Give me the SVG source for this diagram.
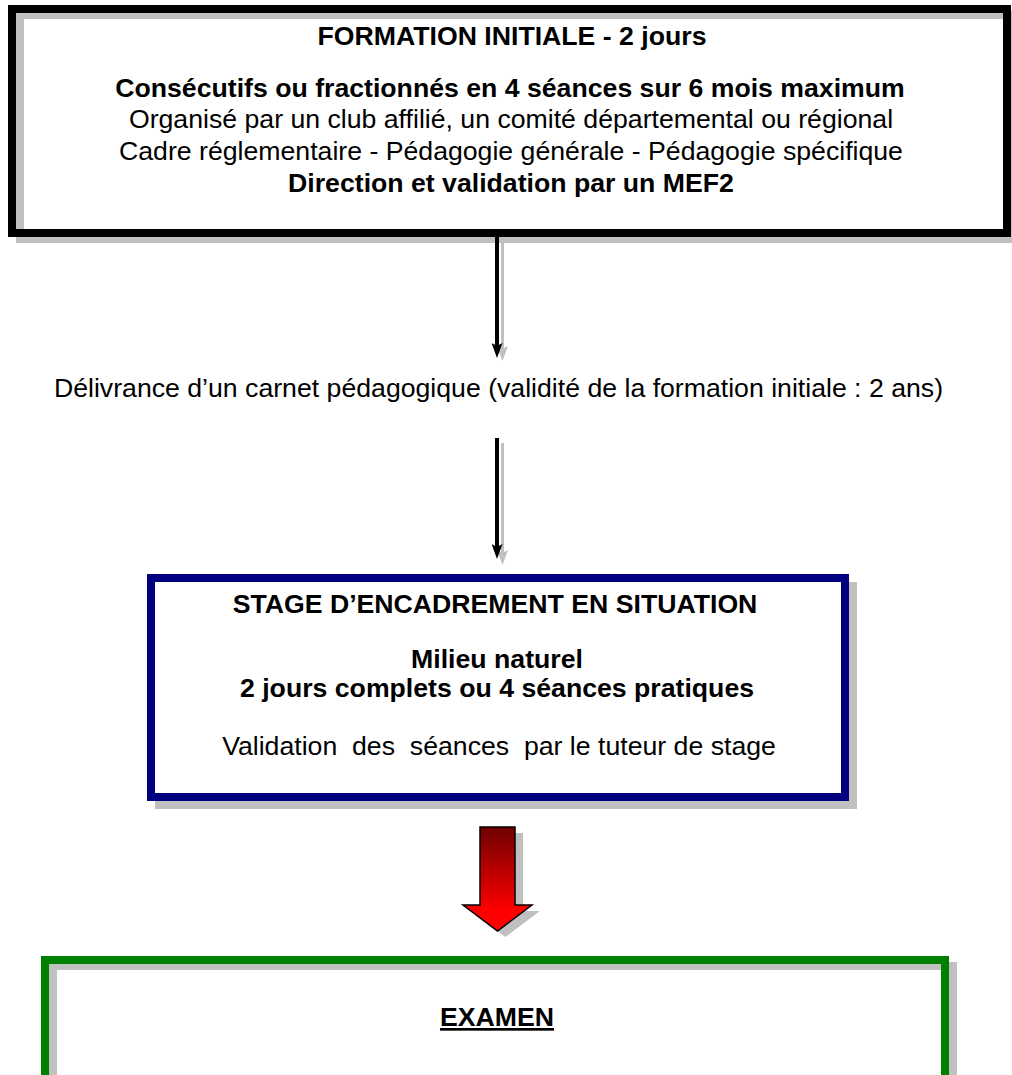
<svg xmlns="http://www.w3.org/2000/svg" width="1012" height="1075" viewBox="0 0 1012 1075">
<style>
text{font-family:"Liberation Sans",Arial,sans-serif;font-size:26.67px;fill:#000;text-anchor:middle}
.b{font-weight:bold}
.shadow{fill:none;stroke:#c0c0c0;stroke-width:8}
.bg{fill:#fff}
</style>
<defs>
<linearGradient id="red" x1="0" y1="0" x2="0" y2="1">
<stop offset="0" stop-color="#6e0000"/>
<stop offset="0.8" stop-color="#ff0000"/>
<stop offset="1" stop-color="#ff0000"/>
</linearGradient>
<marker id="ah" viewBox="0 0 15 11" markerUnits="userSpaceOnUse" markerWidth="15" markerHeight="11" refX="7" refY="5.5" orient="auto">
<path d="M0,0 L15,5.5 L0,11 L3,5.5 Z" fill="#000"/>
</marker>
<marker id="ahg" viewBox="0 0 15 11" markerUnits="userSpaceOnUse" markerWidth="15" markerHeight="11" refX="7" refY="5.5" orient="auto">
<path d="M0,0 L15,5.5 L0,11 L3,5.5 Z" fill="#c0c0c0"/>
</marker>
</defs>
<rect width="1012" height="1075" fill="#fff"/>

<g id="formation-initiale">
<rect class="bg" x="12" y="9" width="995" height="224"/>
<rect class="shadow" x="20" y="15" width="995" height="224"/>
<rect x="12" y="9" width="995" height="224" fill="none" stroke="#000" stroke-width="8"/>
<text class="b" x="512" y="45">FORMATION INITIALE - 2 jours</text>
<text class="b" x="510" y="97">Consécutifs ou fractionnés en 4 séances sur 6 mois maximum</text>
<text x="511" y="128">Organisé par un club affilié, un comité départemental ou régional</text>
<text x="511" y="160">Cadre réglementaire - Pédagogie générale - Pédagogie spécifique</text>
<text class="b" x="511" y="192">Direction et validation par un MEF2</text>
</g>

<g id="carnet">
<text x="498.5" y="397">Délivrance d’un carnet pédagogique (validité de la formation initiale : 2 ans)</text>
</g>

<g id="stage">
<rect x="155" y="582" width="702" height="227" fill="#c0c0c0"/>
<rect class="bg" x="151" y="578" width="694" height="219" stroke="#000080" stroke-width="8"/>
<text class="b" x="495" y="613">STAGE D’ENCADREMENT EN SITUATION</text>
<text class="b" x="497" y="668">Milieu naturel</text>
<text class="b" x="497" y="697">2 jours complets ou 4 séances pratiques</text>
<text x="499" y="755" xml:space="preserve">Validation  des  séances  par le tuteur de stage</text>
</g>

<g id="examen">
<rect class="bg" x="45" y="960" width="900" height="200"/>
<rect class="shadow" x="53" y="966" width="900" height="200"/>
<rect x="45" y="960" width="900" height="200" fill="none" stroke="#008000" stroke-width="8"/>
<text class="b" x="497" y="1026" style="text-decoration:underline">EXAMEN</text>
</g>

<g id="connectors">
<line x1="502.5" y1="239" x2="502.5" y2="353" stroke="#c0c0c0" stroke-width="3" marker-end="url(#ahg)"/>
<line x1="497" y1="237" x2="497" y2="350" stroke="#000" stroke-width="4" marker-end="url(#ah)"/>
<line x1="502.5" y1="443" x2="502.5" y2="557" stroke="#c0c0c0" stroke-width="3" marker-end="url(#ahg)"/>
<line x1="497" y1="438" x2="497" y2="551" stroke="#000" stroke-width="4" marker-end="url(#ah)"/>
<polygon points="488,833 523,833 523,911 540,911 505.5,937 471,911 488,911" fill="#c0c0c0"/>
<polygon points="480,827 515,827 515,905 532,905 497.5,931 463,905 480,905" fill="url(#red)" stroke="#000" stroke-width="1.5" stroke-linejoin="miter"/>
</g>
</svg>
